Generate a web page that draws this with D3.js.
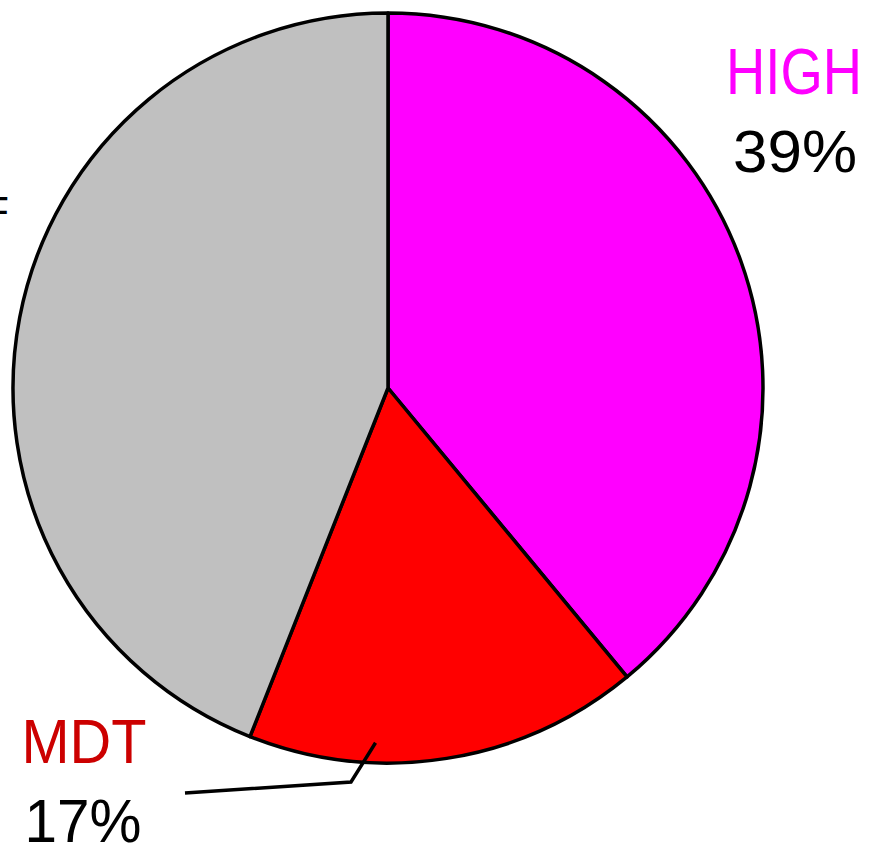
<!DOCTYPE html>
<html>
<head>
<meta charset="utf-8">
<script src="https://cdn.jsdelivr.net/npm/d3@7/dist/d3.min.js"></script>
<style>
  html, body { margin: 0; padding: 0; background: #fff; }
  svg { display: block; }
  text { font-family: "Liberation Sans", Arial, sans-serif; }
</style>
</head>
<body>
<script>
// Slice data, in drawing order (clockwise from 12 o'clock)
const categories = ["HIGH", "MDT", "OFF"];
const values = [39, 17, 44];
const sliceColors = ["#ff00ff", "#ff0000", "#c0c0c0"];
const labelColors = ["#ff00ff", "#cc0000", "#000000"];
const percentLabels = ["39%", "17%", "44%"];

const width = 871, height = 848;
const cx = 388, cy = 388, radius = 375;

const svg = d3.select("body").append("svg")
  .attr("width", width).attr("height", height);

const pie = d3.pie().sort(null).value(d => d.value);
const arc = d3.arc().innerRadius(0).outerRadius(radius);

const data = categories.map((c, i) => ({ name: c, value: values[i], color: sliceColors[i] }));
const arcs = pie(data);

const g = svg.append("g").attr("transform", `translate(${cx},${cy})`);
g.selectAll("path")
  .data(arcs)
  .join("path")
  .attr("d", arc)
  .attr("fill", d => d.data.color)
  .attr("stroke", "#000")
  .attr("stroke-width", 3.5)
  .attr("stroke-linejoin", "round");

// HIGH label (upper right)
svg.append("text")
  .attr("x", 794).attr("y", 94)
  .attr("text-anchor", "middle")
  .attr("font-size", 64)
  .attr("textLength", 136).attr("lengthAdjust", "spacingAndGlyphs")
  .attr("fill", labelColors[0])
  .text(categories[0]);
svg.append("text")
  .attr("x", 795).attr("y", 172)
  .attr("text-anchor", "middle")
  .attr("font-size", 60)
  .attr("textLength", 124).attr("lengthAdjust", "spacingAndGlyphs")
  .attr("fill", "#000")
  .text(percentLabels[0]);

// MDT label (lower left) with a leader line into its slice
const mdt = arcs[1];
const anchorAngle = mdt.startAngle + 0.68 * (mdt.endAngle - mdt.startAngle);
const anchorArc = d3.arc().innerRadius(radius - 20).outerRadius(radius - 20);
const [ax, ay] = anchorArc.centroid({ startAngle: anchorAngle, endAngle: anchorAngle });
svg.append("polyline")
  .attr("points", [[cx + ax, cy + ay], [351, 782], [185, 793]].map(p => p.join(",")).join(" "))
  .attr("fill", "none")
  .attr("stroke", "#000")
  .attr("stroke-width", 3.5);

svg.append("text")
  .attr("x", 84).attr("y", 763)
  .attr("text-anchor", "middle")
  .attr("font-size", 63)
  .attr("textLength", 125).attr("lengthAdjust", "spacingAndGlyphs")
  .attr("fill", labelColors[1])
  .text(categories[1]);
svg.append("text")
  .attr("x", 83).attr("y", 842)
  .attr("text-anchor", "middle")
  .attr("font-size", 61)
  .attr("textLength", 117).attr("lengthAdjust", "spacingAndGlyphs")
  .attr("fill", "#000")
  .text(percentLabels[1]);

// Gray slice label sits mostly beyond the left edge
svg.append("text")
  .attr("x", 9).attr("y", 226)
  .attr("text-anchor", "end")
  .attr("font-size", 42)
  .attr("fill", labelColors[2])
  .text(categories[2]);
</script>
</body>
</html>
